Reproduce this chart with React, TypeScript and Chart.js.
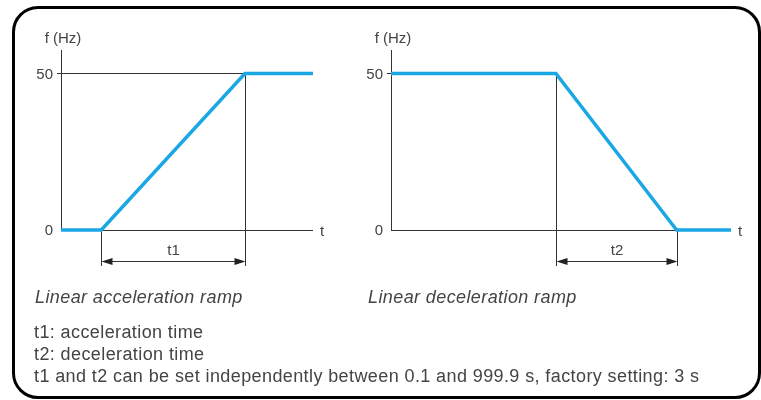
import React, { useEffect, useRef } from 'react';
import { Chart, registerables } from 'chart.js';

Chart.register(...registerables);

// ---- data ----
const accelTimes = [0, 1.6, 7.3, 10];
const accelFreq = [0, 0, 50, 50];
const decelTimes = [0, 4.85, 8.4, 10];
const decelFreq = [50, 50, 0, 0];
const yTicks = [0, 50];
const yAxisTitle = 'f (Hz)';
const xAxisTitle = 't';
const rampLabels = ['t1', 't2'];
const captions = ['Linear acceleration ramp', 'Linear deceleration ramp'];
const notes = [
  't1: acceleration time',
  't2: deceleration time',
  't1 and t2 can be set independently between 0.1 and 999.9 s, factory setting: 3 s',
];

const BLUE = '#1ba7e3';
const INK = '#444444';
const FONT = "'Liberation Sans', Arial, sans-serif";
const W = 761;
const H = 400;

type RampOpts = {
  rampLabel: string;
  rampStart: number; // index of ramp start point
  rampEnd: number; // index of ramp end point
  gridToRampEnd: boolean;
};

function makePlugin(o: RampOpts, times: number[], freq: number[]) {
  return {
    id: 'rampDecor',
    beforeDatasetsDraw(chart: any) {
      const ctx = chart.ctx as CanvasRenderingContext2D;
      const xs = chart.scales.x;
      const ys = chart.scales.y;
      const area = chart.chartArea;
      const x0 = xs.getPixelForValue(0);
      const xEnd = xs.getPixelForValue(xs.max);
      const y0 = ys.getPixelForValue(0);
      ctx.save();
      ctx.strokeStyle = '#333';
      ctx.fillStyle = INK;
      ctx.lineWidth = 1;
      // y axis
      ctx.beginPath();
      ctx.moveTo(Math.round(x0) + 0.5, area.top);
      ctx.lineTo(Math.round(x0) + 0.5, y0);
      ctx.stroke();
      // x axis
      ctx.beginPath();
      ctx.moveTo(x0, Math.round(y0) + 0.5);
      ctx.lineTo(xEnd, Math.round(y0) + 0.5);
      ctx.stroke();
      // y ticks + labels
      ctx.font = `15px ${FONT}`;
      ctx.textAlign = 'right';
      ctx.textBaseline = 'middle';
      yTicks.forEach((v) => {
        const py = ys.getPixelForValue(v);
        if (v > 0) {
          ctx.beginPath();
          ctx.moveTo(x0 - 4, Math.round(py) + 0.5);
          ctx.lineTo(x0, Math.round(py) + 0.5);
          ctx.stroke();
        }
        ctx.fillText(String(v), x0 - 8, py + 1);
      });
      // axis titles
      ctx.textAlign = 'center';
      ctx.fillText(yAxisTitle, x0 + 2, area.top - 11);
      ctx.textAlign = 'left';
      ctx.fillText(xAxisTitle, xEnd + 7, y0 + 2);
      // grid line at 50 to ramp end
      const pa = { x: xs.getPixelForValue(times[o.rampStart]), y: ys.getPixelForValue(freq[o.rampStart]) };
      const pb = { x: xs.getPixelForValue(times[o.rampEnd]), y: ys.getPixelForValue(freq[o.rampEnd]) };
      if (o.gridToRampEnd) {
        ctx.beginPath();
        ctx.moveTo(x0, Math.round(pb.y) + 0.5);
        ctx.lineTo(pb.x, Math.round(pb.y) + 0.5);
        ctx.stroke();
      }
      // dimension lines
      const dimBottom = y0 + 36;
      const arrowY = Math.round(y0 + 31) + 0.5;
      [pa, pb].forEach((p) => {
        ctx.beginPath();
        ctx.moveTo(Math.round(p.x) + 0.5, p.y);
        ctx.lineTo(Math.round(p.x) + 0.5, dimBottom);
        ctx.stroke();
      });
      const xl = Math.round(pa.x) + 0.5;
      const xr = Math.round(pb.x) + 0.5;
      ctx.beginPath();
      ctx.moveTo(xl + 8, arrowY);
      ctx.lineTo(xr - 8, arrowY);
      ctx.stroke();
      ctx.fillStyle = '#222';
      ctx.beginPath();
      ctx.moveTo(xl, arrowY);
      ctx.lineTo(xl + 11, arrowY - 3.5);
      ctx.lineTo(xl + 11, arrowY + 3.5);
      ctx.closePath();
      ctx.fill();
      ctx.beginPath();
      ctx.moveTo(xr, arrowY);
      ctx.lineTo(xr - 11, arrowY - 3.5);
      ctx.lineTo(xr - 11, arrowY + 3.5);
      ctx.closePath();
      ctx.fill();
      ctx.fillStyle = INK;
      ctx.textAlign = 'center';
      ctx.textBaseline = 'middle';
      ctx.font = `15px ${FONT}`;
      ctx.fillText(o.rampLabel, (xl + xr) / 2, y0 + 21);
      ctx.restore();
    },
  };
}

function RampChart(props: {
  times: number[];
  freq: number[];
  padding: { left: number; right: number; top: number; bottom: number };
  opts: RampOpts;
}) {
  const ref = useRef<HTMLCanvasElement | null>(null);
  useEffect(() => {
    if (!ref.current) return;
    const { times, freq, padding, opts } = props;
    const chart = new Chart(ref.current, {
      type: 'line',
      data: {
        datasets: [
          {
            data: times.map((t, i) => ({ x: t, y: freq[i] })),
            borderColor: BLUE,
            borderWidth: 3.5,
            pointRadius: 0,
            tension: 0,
            fill: false,
            clip: false as any,
            borderJoinStyle: 'miter',
          } as any,
        ],
      },
      options: {
        animation: false,
        responsive: false,
        events: [],
        layout: { padding },
        plugins: { legend: { display: false }, tooltip: { enabled: false } },
        scales: {
          x: { type: 'linear', min: 0, max: 10, display: false },
          y: { type: 'linear', min: 0, max: 57.5, display: false },
        },
      },
      plugins: [makePlugin(opts, times, freq)],
    });
    return () => chart.destroy();
  }, []);
  return (
    <canvas
      ref={ref}
      width={W}
      height={H}
      style={{ position: 'absolute', left: 0, top: 0, width: W, height: H }}
    />
  );
}

export default function App() {
  const textStyle: React.CSSProperties = {
    position: 'absolute',
    fontFamily: FONT,
    fontSize: 18,
    letterSpacing: '0.4px',
    color: INK,
    whiteSpace: 'nowrap',
    lineHeight: '22px',
  };
  return (
    <div style={{ position: 'fixed', left: 0, top: 0, width: W, height: H, background: '#fff', overflow: 'hidden' }}>
      <div
        style={{
          position: 'absolute',
          left: 12,
          top: 6,
          width: 749,
          height: 393,
          boxSizing: 'border-box',
          border: '3px solid #000',
          borderRadius: 26,
        }}
      />
      <RampChart
        times={accelTimes}
        freq={accelFreq}
        padding={{ left: 61, right: W - 313, top: 50, bottom: H - 230 }}
        opts={{ rampLabel: rampLabels[0], rampStart: 1, rampEnd: 2, gridToRampEnd: true }}
      />
      <RampChart
        times={decelTimes}
        freq={decelFreq}
        padding={{ left: 391, right: W - 731, top: 50, bottom: H - 230 }}
        opts={{ rampLabel: rampLabels[1], rampStart: 1, rampEnd: 2, gridToRampEnd: false }}
      />
      <div style={{ ...textStyle, left: 35, top: 286, fontStyle: 'italic' }}>{captions[0]}</div>
      <div style={{ ...textStyle, left: 368, top: 286, fontStyle: 'italic' }}>{captions[1]}</div>
      {notes.map((n, i) => (
        <div key={i} style={{ ...textStyle, left: 34, top: 321 + i * 22 }}>
          {n}
        </div>
      ))}
    </div>
  );
}
